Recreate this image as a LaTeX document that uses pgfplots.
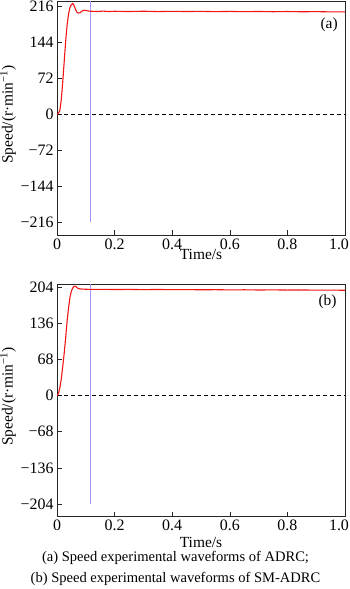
\documentclass[border=0pt]{standalone}
\usepackage{fontspec}
\setmainfont{Liberation Serif}
\usepackage{pgfplots}
\pgfplotsset{compat=1.18}
\definecolor{myred}{RGB}{240,20,20}
\definecolor{mypurple}{RGB}{170,145,252}
\pgfplotsset{myax/.style={
  scale only axis, width=288bp, xmin=0, xmax=1,
  xtick={0,0.2,0.4,0.6,0.8,1.0}, xticklabels={0,0.2,0.4,0.6,0.8,{\hspace*{-12bp}1.0}},
  tick pos=left, tick align=inside,
  axis line style={line width=0.6pt, black!85},
  every tick/.style={line width=0.6pt, black!85},
  major tick length=4.5bp,
  ticklabel style={font=\fontsize{16}{18}\selectfont},
  label style={font=\fontsize{15.5}{17}\selectfont},
  xlabel={Time/s}, ylabel={Speed/(r·min\textsuperscript{−1})},
  ylabel style={at={(axis description cs:-0.170,0.515)}, anchor=center},
}}
\begin{document}
\begin{tikzpicture}
\useasboundingbox (-57bp,-73bp) rectangle (293bp,516bp);
% top axis (a)
\begin{axis}[myax, at={(0,281bp)}, anchor=south west, height=234bp,
  ymin=-240.5, ymax=226,
  ytick={-216,-144,-72,0,72,144,216},
  yticklabels={−216,−144,−72,0,72,144,216},
  xlabel style={at={(axis description cs:0.5,-0.083)}, anchor=center}]
\addplot[mypurple, line width=1.6pt] coordinates {(0.117,-214) (0.117,226)};
\addplot[black, dashed, dash pattern=on 4bp off 3bp, line width=0.6pt] coordinates {(0,0) (1,0)};
\addplot[myred, line width=1.1pt] coordinates {
(0,0)(0.005,2)(0.01,8)(0.015,30)(0.02,65)(0.025,105)(0.03,145)(0.035,178)(0.04,200)
(0.045,213)(0.05,219)(0.055,221)(0.06,216)(0.065,208)(0.07,203)(0.075,202)(0.08,202.5)
(0.085,205)(0.09,207)(0.095,207.5)(0.1,207)(0.11,206)(0.12,205.5)(0.14,205)(0.16,205.8)
(0.18,205)(0.2,205.5)(0.25,205)(0.3,205.6)(0.35,204.9)(0.4,205.4)(0.45,205)(0.5,205.3)
(0.55,204.8)(0.6,205.2)(0.65,204.7)(0.7,205.1)(0.75,204.6)(0.8,205)(0.85,204.5)(0.9,204.8)
(0.95,204.3)(1.0,204.2)};
\node[anchor=east, font=\fontsize{15.5}{17}\selectfont] at (rel axis cs:0.987,0.90) {(a)};
\end{axis}
% bottom axis (b)
\begin{axis}[myax, at={(0,0)}, anchor=south west, height=232bp,
  ymin=-226.6, ymax=210.2,
  ytick={-204,-136,-68,0,68,136,204},
  yticklabels={−204,−136,−68,0,68,136,204},
  xlabel style={at={(axis description cs:0.5,-0.116)}, anchor=center}]
\addplot[mypurple, line width=1.6pt] coordinates {(0.117,-204) (0.117,211)};
\addplot[black, dashed, dash pattern=on 4bp off 3bp, line width=0.6pt] coordinates {(0,0) (1,0)};
\addplot[myred, line width=1.1pt] coordinates {
(0,0)(0.005,4)(0.01,15)(0.015,32)(0.02,55)(0.025,80)(0.03,108)(0.035,140)(0.04,165)
(0.045,185)(0.05,197)(0.055,203)(0.06,206)(0.065,205.5)(0.07,203)(0.075,201.5)(0.08,201)
(0.09,200.5)(0.1,200.3)(0.12,200)(0.15,200.2)(0.2,199.8)(0.25,200)(0.3,199.6)(0.35,199.9)
(0.4,199.5)(0.45,199.7)(0.5,199.3)(0.55,199.5)(0.6,199.1)(0.65,199.3)(0.7,198.9)(0.75,199.1)
(0.8,198.8)(0.85,199)(0.9,198.6)(0.95,198.7)(1.0,198.4)};
\node[anchor=east, font=\fontsize{15.5}{17}\selectfont] at (rel axis cs:0.983,0.924) {(b)};
\end{axis}
\node[font=\fontsize{14.6}{16}\selectfont] at (118.5bp,-41.7bp) {(a) Speed experimental waveforms of ADRC;};
\node[font=\fontsize{14.6}{16}\selectfont] at (118.5bp,-63bp) {(b) Speed experimental waveforms of SM-ADRC};
\end{tikzpicture}
\end{document}
